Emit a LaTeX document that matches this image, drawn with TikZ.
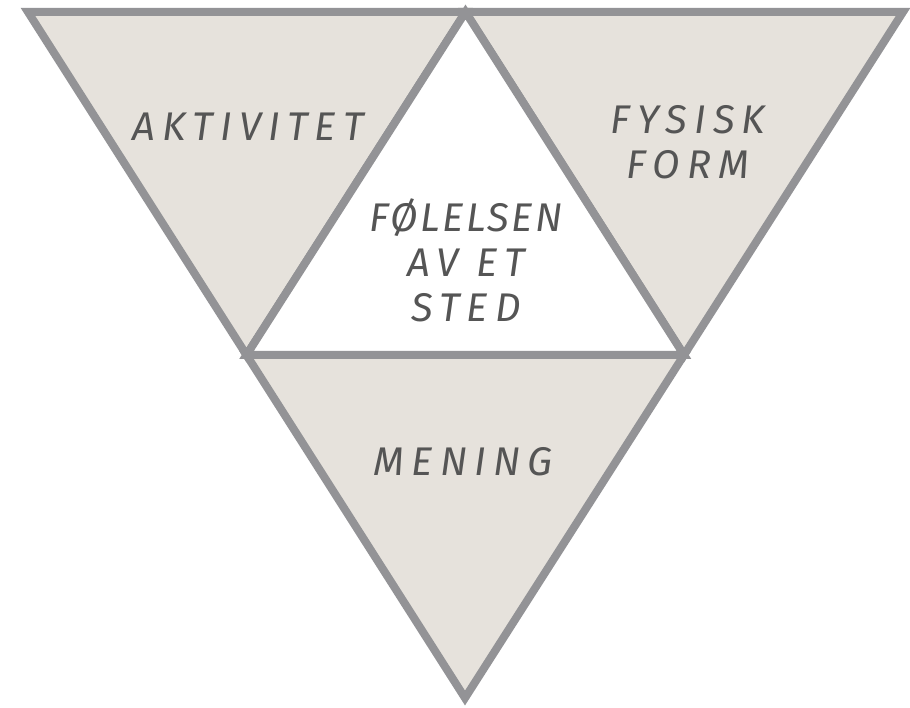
\documentclass[tikz,border=0pt]{standalone}
\usepackage{fontspec}
\setmainfont{Fira Sans}[LetterSpace=18]
\usetikzlibrary{calc}
\definecolor{felt}{HTML}{E6E2DC}
\definecolor{kant}{HTML}{939396}
\definecolor{skrift}{HTML}{555555}
\tikzset{
  felt/.style={fill=felt, draw=kant, line width=8pt, line join=miter},
  tekst/.style={text=skrift, font=\fontsize{40}{45}\selectfont\itshape, align=center}
}
\begin{document}
\begin{tikzpicture}[x=1pt, y=-1pt]
    \useasboundingbox (0,0) rectangle (910,708);
    % Hjoerner
    \coordinate (venstre) at (28,12);
    \coordinate (hoyre) at (903,12);
    \coordinate (bunn) at (465,698);
    \coordinate (topp) at ($(venstre)!0.5!(hoyre)$);
    \coordinate (vmidt) at ($(venstre)!0.5!(bunn)$);
    \coordinate (hmidt) at ($(hoyre)!0.5!(bunn)$);
    % Trekanter
    \draw[felt] (venstre) -- (topp) -- (vmidt) -- cycle;
    \draw[felt] (topp) -- (hoyre) -- (hmidt) -- cycle;
    \draw[felt] (vmidt) -- (hmidt) -- (bunn) -- cycle;
    \draw[felt, fill=white] (topp) -- (hmidt) -- (vmidt) -- cycle;
    % Tekst
    \node[tekst] (aktivitet) at (248,127) {AKTIVITET};
    \node[tekst] (form) at (688,142) {FYSISK\\FORM};
    \node[tekst] (sted) at (466,260) {{\addfontfeature{LetterSpace=6}FØLELSEN}\\AV ET\\STED};
    \node[tekst] (mening) at (463,462) {MENING};
\end{tikzpicture}
\end{document}
